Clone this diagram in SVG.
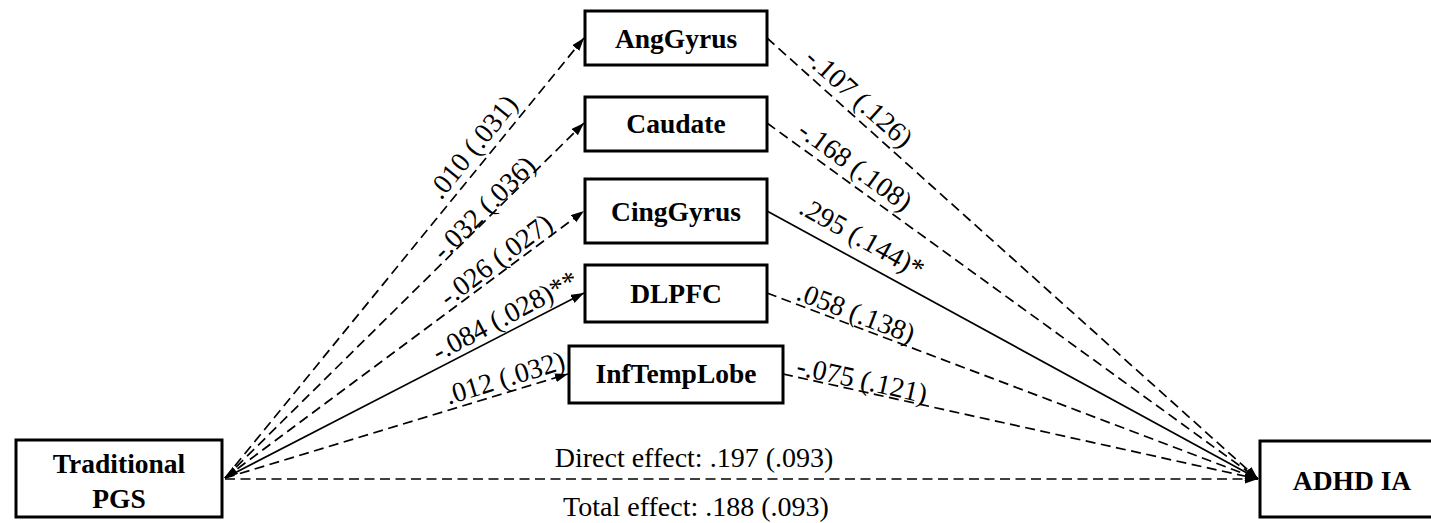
<svg xmlns="http://www.w3.org/2000/svg" width="1431" height="523" viewBox="0 0 1431 523">
<style>
.box{fill:#fff;stroke:#000;stroke-width:3}
.nl{font-family:"Liberation Serif","Times New Roman",serif;font-weight:bold;font-size:27.5px;text-anchor:middle;fill:#000}
.el{font-family:"Liberation Serif","Times New Roman",serif;font-size:28px;text-anchor:middle;fill:#000}
.c{fill:none;stroke:#000;stroke-width:1.7}
.d{stroke-dasharray:10 5.5}
</style>
<defs>
<marker id="ah" markerUnits="userSpaceOnUse" markerWidth="14" markerHeight="10" refX="13" refY="4.5" orient="auto-start-reverse">
<path d="M0,0 L13,4.5 L0,9 z" fill="#000"/>
</marker>
</defs>
<rect width="1431" height="523" fill="#fff"/>
<g id="connectors">
<path class="c d" d="M225,478 L584,38" marker-end="url(#ah)"/>
<path class="c d" d="M225,478 L584,123" marker-end="url(#ah)"/>
<path class="c d" d="M225,478 L584,211" marker-start="url(#ah)" marker-end="url(#ah)"/>
<path class="c" d="M225,478 L584,293" marker-end="url(#ah)"/>
<path class="c d" d="M225,478 L568,374" marker-end="url(#ah)"/>
<path class="c d" d="M767,38 L1258,479" marker-end="url(#ah)"/>
<path class="c d" d="M767,123 L1258,479" marker-end="url(#ah)"/>
<path class="c" d="M767,211 L1258,479" marker-end="url(#ah)"/>
<path class="c d" d="M767,293 L1258,479" marker-end="url(#ah)"/>
<path class="c d" d="M783,374 L1258,479" marker-end="url(#ah)"/>
<path class="c d" d="M225,479 L1258,479" marker-end="url(#ah)"/>
<text class="el" transform="translate(473,147) rotate(-51)" y="9">.010 (.031)</text>
<text class="el" transform="translate(484,208) rotate(-45)" y="9">-.032 (.036)</text>
<text class="el" transform="translate(496,260) rotate(-37)" y="9">-.026 (.027)</text>
<text class="el" transform="translate(505,316) rotate(-28)" y="9">-.084 (.028)**</text>
<text class="el" transform="translate(505,378) rotate(-17)" y="9">.012 (.032)</text>
<text class="el" transform="translate(859,98) rotate(42)" y="9">-.107 (.126)</text>
<text class="el" transform="translate(855,166) rotate(36)" y="9">-.168 (.108)</text>
<text class="el" transform="translate(862,238) rotate(29)" y="9">.295 (.144)*</text>
<text class="el" transform="translate(856,313) rotate(21)" y="9">.058 (.138)</text>
<text class="el" transform="translate(862,380) rotate(12.5)" y="9">-.075 (.121)</text>
<text class="el" x="694" y="467">Direct effect: .197 (.093)</text>
<text class="el" x="696" y="516">Total effect: .188 (.093)</text>
</g>
<g id="pgs">
<rect class="box" x="16" y="440" width="206" height="77"/>
<text class="nl" x="119" y="473">Traditional</text>
<text class="nl" x="119" y="508">PGS</text>
</g>
<g id="adhd">
<rect class="box" x="1260" y="441" width="174" height="76"/>
<text class="nl" x="1352" y="490">ADHD IA</text>
</g>
<g id="anggyrus">
<rect class="box" x="585" y="11" width="182" height="54"/>
<text class="nl" x="676" y="48">AngGyrus</text>
</g>
<g id="caudate">
<rect class="box" x="585" y="97" width="182" height="54"/>
<text class="nl" x="676" y="133">Caudate</text>
</g>
<g id="cinggyrus">
<rect class="box" x="585" y="179" width="182" height="64"/>
<text class="nl" x="676" y="221">CingGyrus</text>
</g>
<g id="dlpfc">
<rect class="box" x="585" y="265" width="182" height="57"/>
<text class="nl" x="676" y="303">DLPFC</text>
</g>
<g id="inftemplobe">
<rect class="box" x="569" y="346" width="214" height="57"/>
<text class="nl" x="676" y="383">InfTempLobe</text>
</g>
</svg>
